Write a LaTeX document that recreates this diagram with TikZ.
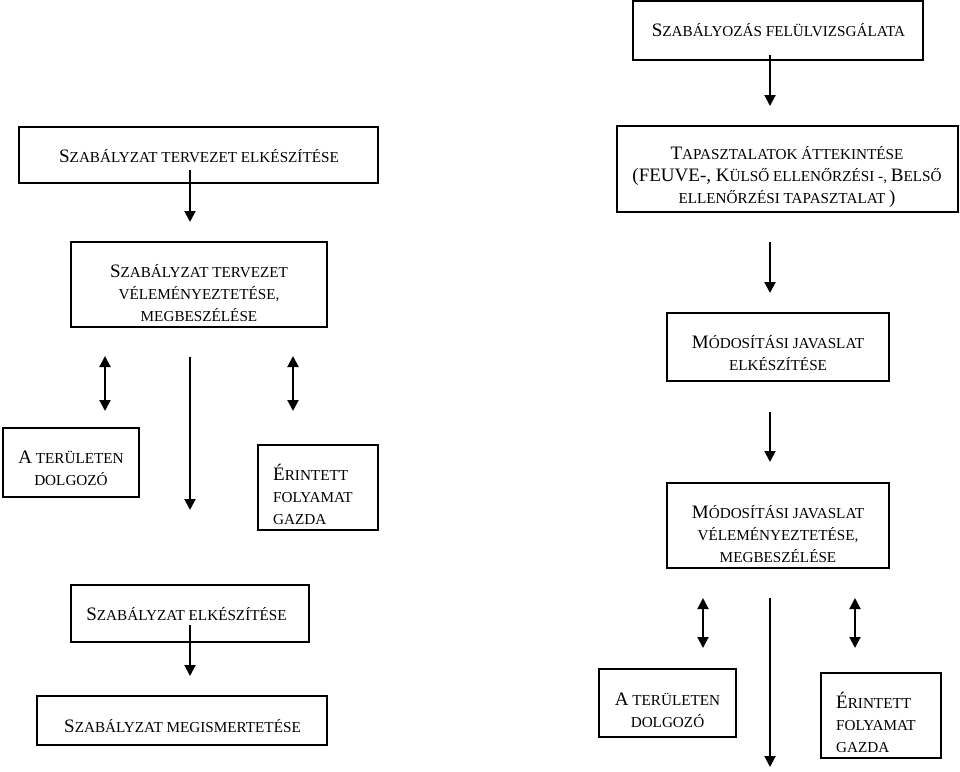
\documentclass[tikz,border=0pt]{standalone}
\usepackage{fontspec}
\setmainfont{Liberation Serif}
\usetikzlibrary{arrows.meta}
\newcommand\Bg[1]{{\fontsize{19}{22}\selectfont #1}}
\newcommand\Sm{\fontsize{15.2}{22}\selectfont}
\newcommand\TC[1]{\Sm\begin{tabular}[t]{@{}c@{}}#1\end{tabular}}
\newcommand\TL[1]{\Sm\begin{tabular}[t]{@{}l@{}}#1\end{tabular}}
\begin{document}
\begin{tikzpicture}[x=1pt,y=-1pt,
  box/.style={draw,line width=1.8pt,inner sep=0pt},
  txt/.style={inner sep=0pt,anchor=base},
  txtl/.style={inner sep=0pt,anchor=base west},
  arr/.style={line width=2pt,-{Triangle[length=11pt,width=11pt]}},
  darr/.style={line width=2pt,{Triangle[length=11pt,width=11pt]}-{Triangle[length=11pt,width=11pt]}}]
\useasboundingbox (0,0) rectangle (960,771);
% right column boxes
\node[box,minimum width=290pt,minimum height=59pt] (r1) at (778,30.5) {};
\node[box,minimum width=341pt,minimum height=86pt] (r2) at (787.5,169) {};
\node[box,minimum width=222pt,minimum height=68pt] (r3) at (778,347) {};
\node[box,minimum width=222pt,minimum height=85pt] (r4) at (778,525.5) {};
\node[box,minimum width=137pt,minimum height=68pt] (r5) at (667.5,703) {};
\node[box,minimum width=120pt,minimum height=85pt] (r6) at (881,715.5) {};
% left column boxes
\node[box,minimum width=359pt,minimum height=56pt] (l1) at (198.5,155) {};
\node[box,minimum width=256pt,minimum height=85pt] (l2) at (199,284.5) {};
\node[box,minimum width=136pt,minimum height=69pt] (l3) at (71,462.5) {};
\node[box,minimum width=120pt,minimum height=85pt] (l4) at (318,487.5) {};
\node[box,minimum width=238pt,minimum height=57pt] (l5) at (190,613.5) {};
\node[box,minimum width=290pt,minimum height=49pt] (l6) at (182,720.5) {};
% texts
\node[txt] (tr1) at (778.5,36) {\TC{\Bg{S}ZABÁLYOZÁS FELÜLVIZSGÁLATA}};
\node[txt] (tr2) at (787,159) {\TC{\Bg{T}APASZTALATOK ÁTTEKINTÉSE\\ \Bg{(FEUVE-, K}ÜLSŐ ELLENŐRZÉSI -, \Bg{B}ELSŐ\\ ELLENŐRZÉSI TAPASZTALAT \Bg{)}}};
\node[txt] (tr3) at (778,348) {\TC{\Bg{M}ÓDOSÍTÁSI JAVASLAT\\ ELKÉSZÍTÉSE}};
\node[txt] (tr4) at (778,518) {\TC{\Bg{M}ÓDOSÍTÁSI JAVASLAT\\ VÉLEMÉNYEZTETÉSE,\\ MEGBESZÉLÉSE}};
\node[txt] (tr5) at (667.5,705) {\TC{\Bg{A} TERÜLETEN\\ DOLGOZÓ}};
\node[txtl] (tr6) at (836,708) {\TL{\Bg{É}RINTETT\\ FOLYAMAT\\ GAZDA}};
\node[txt] (tl1) at (199,162) {\TC{\Bg{S}ZABÁLYZAT TERVEZET ELKÉSZÍTÉSE}};
\node[txt] (tl2) at (199,277) {\TC{\Bg{S}ZABÁLYZAT TERVEZET\\ VÉLEMÉNYEZTETÉSE,\\ MEGBESZÉLÉSE}};
\node[txt] (tl3) at (71,463) {\TC{\Bg{A} TERÜLETEN\\ DOLGOZÓ}};
\node[txtl] (tl4) at (273,480) {\TL{\Bg{É}RINTETT\\ FOLYAMAT\\ GAZDA}};
\node[txt] (tl5) at (186.5,620) {\TC{\Bg{S}ZABÁLYZAT ELKÉSZÍTÉSE}};
\node[txt] (tl6) at (182.5,732) {\TC{\Bg{S}ZABÁLYZAT MEGISMERTETÉSE}};
% arrow end points
\coordinate (a1s) at (770,55);  \coordinate (a1e) at (770,106);
\coordinate (a2s) at (770,242); \coordinate (a2e) at (770,293);
\coordinate (a3s) at (770,412); \coordinate (a3e) at (770,462);
\coordinate (a4s) at (703,598); \coordinate (a4e) at (703,648);
\coordinate (a5s) at (855,598); \coordinate (a5e) at (855,648);
\coordinate (a6s) at (770,598); \coordinate (a6e) at (770,767);
\coordinate (b1s) at (190,170); \coordinate (b1e) at (190,222);
\coordinate (b2s) at (105,356); \coordinate (b2e) at (105,411);
\coordinate (b3s) at (293,356); \coordinate (b3e) at (293,411);
\coordinate (b4s) at (190,357); \coordinate (b4e) at (190,510);
\coordinate (b5s) at (190,625); \coordinate (b5e) at (190,676);
\draw[arr] (a1s) -- (a1e);
\draw[arr] (a2s) -- (a2e);
\draw[arr] (a3s) -- (a3e);
\draw[darr] (a4s) -- (a4e);
\draw[darr] (a5s) -- (a5e);
\draw[arr] (a6s) -- (a6e);
\draw[arr] (b1s) -- (b1e);
\draw[darr] (b2s) -- (b2e);
\draw[darr] (b3s) -- (b3e);
\draw[arr] (b4s) -- (b4e);
\draw[arr] (b5s) -- (b5e);
\end{tikzpicture}
\end{document}
